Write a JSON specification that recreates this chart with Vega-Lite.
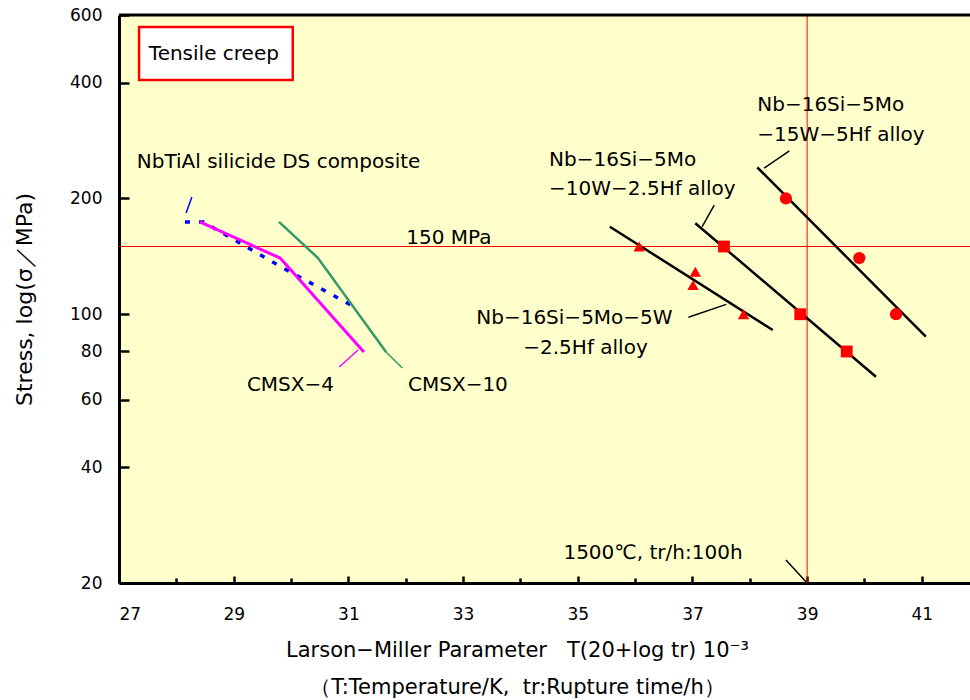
{
  "$schema": "https://vega.github.io/schema/vega-lite/v6.json",
  "autosize": "none",
  "width": 851,
  "height": 568,
  "padding": {"left": 119, "top": 15, "right": 0, "bottom": 117},
  "background": "white",
  "config": {
    "view": {"fill": "#FFFFCC", "stroke": null},
    "font": "DejaVu Sans",
    "axis": {"labelFont": "DejaVu Sans", "titleFont": "DejaVu Sans", "labelColor": "black", "titleColor": "black", "titleFontWeight": "normal", "domainColor": "black", "tickColor": "black", "grid": false}
  },
  "datasets": {
    "lines": [
      {"series": "NbTiAl", "o": 1, "x": 28.15, "y": 173.8},
      {"series": "NbTiAl", "o": 2, "x": 28.47, "y": 173.8},
      {"series": "NbTiAl", "o": 3, "x": 29.86, "y": 131.9},
      {"series": "NbTiAl", "o": 4, "x": 31.08, "y": 105},
      {"series": "CMSX-4", "o": 1, "x": 28.41, "y": 173.8},
      {"series": "CMSX-4", "o": 2, "x": 29.81, "y": 140},
      {"series": "CMSX-4", "o": 3, "x": 31.27, "y": 79.8},
      {"series": "CMSX-10", "o": 1, "x": 29.79, "y": 173.8},
      {"series": "CMSX-10", "o": 2, "x": 30.47, "y": 140},
      {"series": "CMSX-10", "o": 3, "x": 31.66, "y": 79.6},
      {"series": "fitA", "o": 1, "x": 35.56, "y": 168.9},
      {"series": "fitA", "o": 2, "x": 38.4, "y": 91.0},
      {"series": "fitB", "o": 1, "x": 37.05, "y": 172.4},
      {"series": "fitB", "o": 2, "x": 40.2, "y": 68.8},
      {"series": "fitC", "o": 1, "x": 38.13, "y": 241},
      {"series": "fitC", "o": 2, "x": 41.07, "y": 87.4}
    ],
    "leaders": [
      {"series": "leadBlue", "o": 1, "x": 28.17, "y": 183.4},
      {"series": "leadBlue", "o": 2, "x": 28.27, "y": 201.8},
      {"series": "leadMag", "o": 1, "x": 30.84, "y": 72.9},
      {"series": "leadMag", "o": 2, "x": 31.17, "y": 80.7},
      {"series": "leadGreen", "o": 1, "x": 31.66, "y": 79.6},
      {"series": "leadGreen", "o": 2, "x": 31.94, "y": 72.5},
      {"series": "leadA", "o": 1, "x": 36.93, "y": 98.2},
      {"series": "leadA", "o": 2, "x": 37.59, "y": 106.1},
      {"series": "leadB", "o": 1, "x": 37.17, "y": 168.9},
      {"series": "leadB", "o": 2, "x": 37.38, "y": 192.3},
      {"series": "leadC", "o": 1, "x": 38.25, "y": 239.7},
      {"series": "leadC", "o": 2, "x": 38.69, "y": 265.8},
      {"series": "leadT", "o": 1, "x": 38.63, "y": 22.96},
      {"series": "leadT", "o": 2, "x": 38.98, "y": 20.16}
    ],
    "points": [
      {"alloy": "5W-2.5Hf", "x": 36.07, "y": 150},
      {"alloy": "5W-2.5Hf", "x": 37.05, "y": 129},
      {"alloy": "5W-2.5Hf", "x": 37.01, "y": 119},
      {"alloy": "5W-2.5Hf", "x": 37.89, "y": 100},
      {"alloy": "10W-2.5Hf", "x": 37.55, "y": 150},
      {"alloy": "10W-2.5Hf", "x": 38.88, "y": 100},
      {"alloy": "10W-2.5Hf", "x": 39.69, "y": 80},
      {"alloy": "15W-5Hf", "x": 38.63, "y": 200},
      {"alloy": "15W-5Hf", "x": 39.91, "y": 140},
      {"alloy": "15W-5Hf", "x": 40.55, "y": 100}
    ],
    "labels": [
      {"x": 27.52, "y": 475, "text": "Tensile creep"},
      {"x": 27.31, "y": 248.8, "text": "NbTiAl silicide DS composite"},
      {"x": 32.01, "y": 157.9, "text": "150 MPa"},
      {"x": 29.23, "y": 65.5, "text": "CMSX−4"},
      {"x": 32.04, "y": 65.5, "text": "CMSX−10"},
      {"x": 38.13, "y": 350.2, "text": "Nb−16Si−5Mo"},
      {"x": 38.13, "y": 292.6, "text": "−15W−5Hf alloy"},
      {"x": 34.5, "y": 251.9, "text": "Nb−16Si−5Mo"},
      {"x": 34.5, "y": 211.5, "text": "−10W−2.5Hf alloy"},
      {"x": 33.23, "y": 97.6, "text": "Nb−16Si−5Mo−5W"},
      {"x": 34.05, "y": 81.7, "text": "−2.5Hf alloy"},
      {"x": 34.75, "y": 23.9, "text": "1500℃, tr/h:100h"}
    ],
    "hlines": [{"y": 150}],
    "vlines": [{"x": 39}],
    "box": [{"x": 27.35, "x2": 30.03, "y": 558.6, "y2": 406.6}]
  },
  "layer": [
    {
      "data": {"name": "hlines"},
      "mark": {"type": "rule", "color": "#FF0000", "strokeWidth": 1},
      "encoding": {
        "y": {"field": "y", "type": "quantitative", "scale": {"type": "log", "domain": [20, 600], "nice": false},
          "axis": {"values": [20, 40, 60, 80, 100, 200, 400, 600], "title": "Stress, log(σ／MPa)", "titleFontSize": 22, "titlePadding": 33, "labelFontSize": 17, "labelPadding": 27, "tickSize": -10, "tickWidth": 2.5, "domainWidth": 3}}
      }
    },
    {
      "data": {"name": "vlines"},
      "mark": {"type": "rule", "color": "#FF0000", "strokeWidth": 1},
      "encoding": {
        "x": {"field": "x", "type": "quantitative", "scale": {"domain": [27, 41.84], "nice": false, "zero": false},
          "axis": {"values": [27, 28, 29, 30, 31, 32, 33, 34, 35, 36, 37, 38, 39, 40, 41], "format": "d",
            "labelExpr": "datum.value % 2 == 1 ? datum.label : ''",
            "title": ["Larson−Miller Parameter\u00a0\u00a0\u00a0T(20+log tr) 10⁻³", "（T:Temperature/K,\u00a0\u00a0tr:Rupture time/h）"],
            "titleFontSize": 21, "titleLineHeight": 37, "titleX": 398, "titlePadding": 17,
            "labelFontSize": 17, "labelPadding": 30,
            "tickSize": {"condition": {"test": "datum.value % 2 == 1", "value": -7}, "value": -5},
            "tickWidth": 2.5, "domainWidth": 3}}
      }
    },
    {
      "data": {"values": [{"y": 600}]},
      "mark": {"type": "rule", "color": "black", "strokeWidth": 3},
      "encoding": {"y": {"field": "y", "type": "quantitative"}}
    },
    {
      "data": {"name": "box"},
      "mark": {"type": "rect", "fill": "white", "stroke": "#FF0000", "strokeWidth": 2.5},
      "encoding": {
        "x": {"field": "x", "type": "quantitative"},
        "x2": {"field": "x2"},
        "y": {"field": "y", "type": "quantitative"},
        "y2": {"field": "y2"}
      }
    },
    {
      "data": {"name": "lines"},
      "transform": [{"filter": "datum.series == 'NbTiAl'"}],
      "mark": {"type": "line", "color": "#0000FF", "strokeWidth": 3.5, "strokeDash": [5, 9]},
      "encoding": {
        "x": {"field": "x", "type": "quantitative"},
        "y": {"field": "y", "type": "quantitative"},
        "order": {"field": "o", "type": "quantitative"}
      }
    },
    {
      "data": {"name": "lines"},
      "transform": [{"filter": "datum.series == 'CMSX-4'"}],
      "mark": {"type": "line", "color": "#FF00FF", "strokeWidth": 3},
      "encoding": {
        "x": {"field": "x", "type": "quantitative"},
        "y": {"field": "y", "type": "quantitative"},
        "order": {"field": "o", "type": "quantitative"}
      }
    },
    {
      "data": {"name": "lines"},
      "transform": [{"filter": "datum.series == 'CMSX-10'"}],
      "mark": {"type": "line", "color": "#339966", "strokeWidth": 2.5},
      "encoding": {
        "x": {"field": "x", "type": "quantitative"},
        "y": {"field": "y", "type": "quantitative"},
        "order": {"field": "o", "type": "quantitative"}
      }
    },
    {
      "data": {"name": "lines"},
      "transform": [{"filter": "indexof(['fitA','fitB','fitC'], datum.series) >= 0"}],
      "mark": {"type": "line", "color": "black", "strokeWidth": 2.5},
      "encoding": {
        "x": {"field": "x", "type": "quantitative"},
        "y": {"field": "y", "type": "quantitative"},
        "order": {"field": "o", "type": "quantitative"},
        "detail": {"field": "series", "type": "nominal"}
      }
    },
    {
      "data": {"name": "leaders"},
      "mark": {"type": "line", "strokeWidth": 1.5},
      "encoding": {
        "x": {"field": "x", "type": "quantitative"},
        "y": {"field": "y", "type": "quantitative"},
        "order": {"field": "o", "type": "quantitative"},
        "detail": {"field": "series", "type": "nominal"},
        "color": {"field": "series", "type": "nominal", "legend": null,
          "scale": {"domain": ["leadBlue", "leadMag", "leadGreen", "leadA", "leadB", "leadC", "leadT"],
            "range": ["#0000FF", "#FF00FF", "#339966", "black", "black", "black", "black"]}}
      }
    },
    {
      "data": {"name": "points"},
      "mark": {"type": "point", "filled": true, "color": "#FF0000", "opacity": 1},
      "encoding": {
        "x": {"field": "x", "type": "quantitative"},
        "y": {"field": "y", "type": "quantitative"},
        "shape": {"field": "alloy", "type": "nominal", "legend": null,
          "scale": {"domain": ["5W-2.5Hf", "10W-2.5Hf", "15W-5Hf"], "range": ["triangle-up", "square", "circle"]}},
        "size": {"field": "alloy", "type": "nominal", "legend": null,
          "scale": {"domain": ["5W-2.5Hf", "10W-2.5Hf", "15W-5Hf"], "range": [130, 150, 110]}}
      }
    },
    {
      "data": {"name": "labels"},
      "mark": {"type": "text", "align": "left", "baseline": "middle", "fontSize": 20, "font": "DejaVu Sans", "color": "black"},
      "encoding": {
        "x": {"field": "x", "type": "quantitative"},
        "y": {"field": "y", "type": "quantitative"},
        "text": {"field": "text"}
      }
    }
  ]
}
